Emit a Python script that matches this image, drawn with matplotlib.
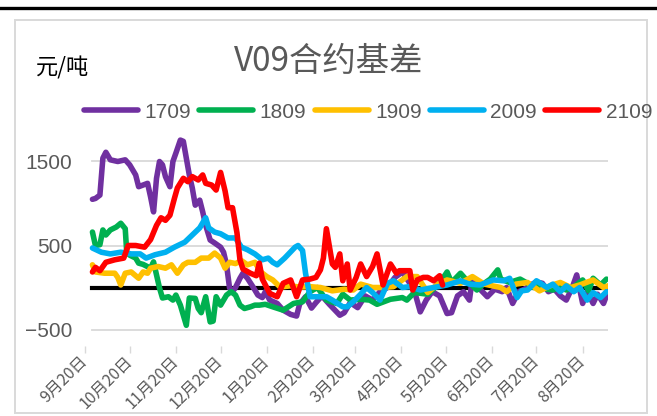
import numpy as np
import pandas as pd
import matplotlib
matplotlib.use("Agg")
import matplotlib.pyplot as plt
from matplotlib.lines import Line2D
from matplotlib.patches import Rectangle

plt.rcParams['font.family'] = ['Noto Sans CJK SC', 'DejaVu Sans']

# days after 9月20日
base = pd.Timestamp('2020-09-20')

d1709 = [5, 7, 10, 12, 14, 17, 22, 27, 30, 34, 36, 39, 42, 44, 46, 48, 50, 52, 54, 57,
         59, 61, 64, 66, 68, 70, 72, 74, 77, 79, 81, 84, 87, 91, 93, 95, 97, 99, 101, 104,
         106, 109, 113, 116, 119, 121, 124, 129, 133, 138, 142, 144, 148, 152, 155, 159, 164, 171, 174, 178,
         183, 188, 193, 198, 203, 208, 213, 218, 222, 225, 229, 233, 238, 243, 246, 250, 254, 258, 260, 264,
         270, 275, 280, 283, 287, 291, 295, 299, 303, 307, 311, 315, 319, 323, 327, 330, 334, 337, 341, 344,
         348, 351]
v1709 = [1050, 1060, 1100, 1540, 1610, 1520, 1500, 1520, 1460, 1340, 1200, 1220, 1240, 1080, 900, 1300, 1500, 1460, 1320, 1200,
         1500, 1600, 1755, 1740, 1540, 1340, 1185, 980, 1040, 900, 740, 565, 530, 480, 420, 270, -5, -50, 0, 110,
         170, 110, 0, -90, -120, -50, -150, -190, -270, -320, -340, -200, -110, -245, -180, -100, -200, -330, -300, -180,
         -240, -100, -150, -50, 0, 120, 185, 50, -100, -290, -150, -50, -100, -310, -300, -100, -50, -150, 110, 0,
         -110, -20, -50, 0, -190, -50, -20, 30, 65, 50, -50, -20, -100, -150, 0, 150, -190, -50, -190, -80,
         -190, -50]

d1809 = [5, 7, 10, 12, 14, 17, 21, 24, 27, 28, 30, 34, 36, 39, 44, 46, 48, 50, 52, 56,
         59, 61, 64, 68, 70, 74, 76, 78, 81, 84, 86, 88, 91, 93, 95, 98, 101, 104, 107, 111,
         114, 117, 121, 126, 133, 140, 146, 151, 156, 162, 169, 173, 178, 185, 191, 196, 205, 213, 216, 221,
         230, 238, 243, 246, 252, 256, 263, 268, 272, 277, 279, 285, 292, 297, 301, 305, 310, 314, 319, 323,
         329, 334, 338, 341, 346, 350]
v1809 = [660, 500, 510, 685, 625, 685, 720, 765, 700, 420, 385, 350, 290, 275, 230, 305, 150, -5, -125, -110,
         -150, -90, -210, -450, -125, -130, -250, -300, -110, -410, -400, -110, -210, -150, -90, -50, -90, -210, -250, -230,
         -210, -210, -200, -230, -270, -190, -170, -50, 0, -150, -190, -80, -150, -140, -150, -200, -140, -120, -150, -60,
         -80, 50, 185, 60, 170, 90, -30, 50, 100, 210, 100, 60, 100, 50, 0, 30, -20, -30, 10, -30,
         20, 90, -40, 110, 30, 100]

d1909 = [5, 7, 13, 20, 22, 24, 27, 31, 36, 39, 42, 44, 49, 54, 58, 62, 66, 69, 74, 78,
         83, 87, 91, 94, 97, 101, 105, 109, 114, 118, 122, 126, 131, 138, 144, 151, 158, 166, 174, 180,
         185, 193, 200, 207, 216, 223, 230, 236, 243, 252, 260, 268, 279, 283, 289, 297, 305, 312, 319, 326,
         332, 341, 348, 351]
v1909 = [270, 185, 170, 170, 120, 30, 170, 185, 110, 185, 170, 230, 250, 230, 270, 170, 270, 300, 300, 350,
         350, 410, 350, 230, 300, 285, 320, 270, 300, 185, 130, 90, 5, 20, 5, 10, 0, -40, -20, -30,
         40, 0, 0, 10, 130, 130, -60, 30, 90, 50, 130, 40, 0, -50, 40, 60, -40, 20, 60, 0,
         30, 90, 0, 20]

d2009 = [5, 11, 17, 24, 31, 37, 41, 47, 54, 60, 67, 72, 77, 81, 83, 87, 91, 96, 101, 105,
         109, 114, 119, 123, 126, 129, 134, 141, 143, 146, 148, 151, 156, 162, 166, 173, 176, 180, 185, 189,
         193, 198, 203, 207, 213, 218, 225, 234, 243, 252, 258, 265, 274, 281, 285, 290, 293, 297, 303, 310,
         314, 319, 323, 328, 332, 337, 341, 346, 350]
v2009 = [470, 420, 400, 420, 400, 400, 350, 390, 420, 480, 540, 625, 710, 830, 710, 660, 640, 590, 590, 480,
         450, 400, 330, 350, 300, 270, 350, 480, 500, 440, 170, -110, -110, -110, -150, -230, -230, -170, -80, 0,
         -60, -150, 50, 80, 0, 10, -30, 0, 30, 80, 40, 30, 90, 80, 110, -120, -40, -30, 80, 0,
         40, -50, 20, -50, 0, -150, -60, -120, -50]

d2109 = [5, 7, 10, 14, 20, 26, 29, 34, 40, 44, 48, 51, 54, 57, 60, 62, 66, 69, 72, 76,
         79, 81, 85, 88, 91, 94, 96, 99, 102, 104, 106, 111, 115, 117, 119, 124, 129, 133, 138, 142,
         146, 151, 155, 158, 160, 162, 166, 168, 171, 173, 176, 178, 182, 185, 189, 193, 196, 200, 205, 209,
         211, 218, 220, 223, 227, 230, 234, 238, 240]
v2109 = [185, 240, 200, 300, 330, 350, 500, 500, 480, 570, 740, 830, 800, 860, 1060, 1185, 1300, 1260, 1320, 1280,
         1340, 1240, 1220, 1160, 1370, 1150, 950, 950, 650, 330, 220, 170, 140, 290, 100, -70, -110, 50, 90, -110,
         90, 100, 120, 210, 350, 700, 280, 240, 400, 80, 280, -30, 120, 280, 130, 250, 400, 30, 280, 170,
         200, 200, -30, 90, 120, 120, 80, 140, 30]

series = [('1709', d1709, v1709, '#7030A0'),
          ('1809', d1809, v1809, '#00B050'),
          ('1909', d1909, v1909, '#FFC000'),
          ('2009', d2009, v2009, '#00B0F0'),
          ('2109', d2109, v2109, '#FF0000')]

tick_months = [9, 10, 11, 12, 1, 2, 3, 4, 5, 6, 7, 8]
tick_dates = [pd.Timestamp(2020 if m >= 9 else 2021, m, 20) for m in tick_months]
tick_labels = ['%d月20日' % m for m in tick_months]

grey = '#595959'
fig = plt.figure(figsize=(6.57, 4.16), dpi=100)

# screenshot bits: black rule at top and the light chart frame
fig.add_artist(Line2D([0, 1], [1 - 8 / 416, 1 - 8 / 416], color='black', lw=2.4))
fig.add_artist(Rectangle((14.7 / 657, 3 / 416), (647 - 14.7) / 657, (413 - 20) / 416,
                         transform=fig.transFigure, fill=False, ec='#d9d9d9', lw=1.4))

ax = fig.add_axes([85 / 657, 1 - 346.3 / 416, 523 / 657, 226.8 / 416])
ax.set_xlim(base, base + pd.Timedelta(days=351))
ax.set_ylim(-700, 2000)
start_frac = 5 / 351

for yv in [-500, 500, 1500]:
    ax.axhline(yv, xmin=start_frac, color='#d9d9d9', lw=1.3, zorder=0)
ax.axhline(0, xmin=start_frac, color='black', lw=3.0, zorder=1)

for name, days, vals, col in series:
    x = base + pd.to_timedelta(days, unit='D')
    ax.plot(x, vals, color=col, lw=4, label=name, solid_joinstyle='round',
            solid_capstyle='round', zorder=2)

for s in ax.spines.values():
    s.set_visible(False)

ax.set_yticks([-500, 500, 1500])
ax.set_yticklabels(['\u2212500', '500', '1500'], family='Liberation Sans', fontsize=15, color=grey)
ax.tick_params(axis='y', length=0, pad=9)

ax.set_xticks(tick_dates)
ax.set_xticklabels(tick_labels, rotation=45, ha='right', va='center', rotation_mode='anchor',
                   fontsize=11.5, color=grey)
ax.tick_params(axis='x', length=5, color='#d9d9d9', width=1, pad=4)

fig.text(0.5, 1 - 62 / 416, 'V09合约基差', ha='center', va='center', fontsize=24, color=grey)
fig.text(36 / 657, 1 - 68 / 416, '元/吨', ha='left', va='center', fontsize=16, color='black')

fig.legend(loc='center', bbox_to_anchor=(368 / 657, 1 - 112 / 416), ncol=5, frameon=False,
           handlelength=2.6, handletextpad=0.3, columnspacing=0.4,
           prop={'family': 'Liberation Sans', 'size': 15}, labelcolor=grey)

fig.savefig('out.png', dpi=100)
